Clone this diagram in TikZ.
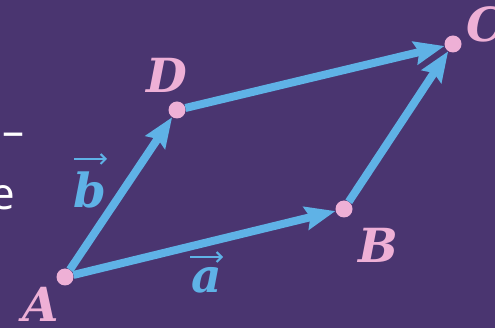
\documentclass[tikz,border=0pt]{standalone}
\usepackage{fontspec}
\setmainfont{DejaVu Serif}
\newfontfamily\sidefont{Open Sans}
\usetikzlibrary{arrows.meta}
\definecolor{bgpurple}{RGB}{74,53,112}
\definecolor{vecblue}{RGB}{95,178,230}
\definecolor{ptpink}{RGB}{238,176,214}
\tikzset{
  pt/.style={circle,fill=ptpink,minimum size=17pt,inner sep=0pt},
  vecline/.style={draw=vecblue,line width=8pt,-{Stealth[length=30pt,width=23pt,inset=4pt]}},
  ptlabel/.style={text=ptpink,font=\fontsize{47}{50}\selectfont\bfseries\itshape,inner sep=0pt,text depth=0pt,anchor=base},
  veclabel/.style={text=vecblue,font=\fontsize{47}{50}\selectfont\bfseries\itshape,inner sep=0pt},
  overarrow/.style={draw=vecblue,line width=2pt,-{Straight Barb[length=5pt,width=10pt]}},
  sidetext/.style={text=white,font=\sidefont\fontsize{44}{48}\selectfont,inner sep=0pt}
}
\begin{document}
\begin{tikzpicture}[x=1pt,y=-1pt]
\fill[bgpurple] (0,0) rectangle (495,328);
\useasboundingbox (0,0) rectangle (495,328);
\begin{scope}
\clip (0,0) rectangle (495,328);
% cut-off side text
\node[sidetext,anchor=base east] (s1) at (25,147) {–};
\node[sidetext,anchor=base east] (s2) at (15,210) {e};
% points
\node[pt] (A) at (65,277) {};
\node[pt] (B) at (344,209) {};
\node[pt] (C) at (453,44) {};
\node[pt] (D) at (177,110) {};
% vectors
\draw[vecline] (A) -- (B);
\draw[vecline] (A) -- (D);
\draw[vecline] (B) -- (C);
\draw[vecline] (D) -- (C);
% point labels
\node[ptlabel] (lA) at (41,322) {A};
\node[ptlabel] (lB) at (378,263) {B};
\node[ptlabel] (lD) at (167,93) {D};
\node[ptlabel,anchor=base west] (lC) at (466,42) {C};
% vector labels
\node[veclabel,anchor=base] (la) at (207,293) {a};
\node[veclabel,anchor=base] (lb) at (90,208) {b};
\coordinate (a1) at (190,257);
\coordinate (a2) at (223,257);
\coordinate (b1) at (74,159);
\coordinate (b2) at (107,159);
\draw[overarrow] (a1) -- (a2);
\draw[overarrow] (b1) -- (b2);
\end{scope}
\end{tikzpicture}
\end{document}
